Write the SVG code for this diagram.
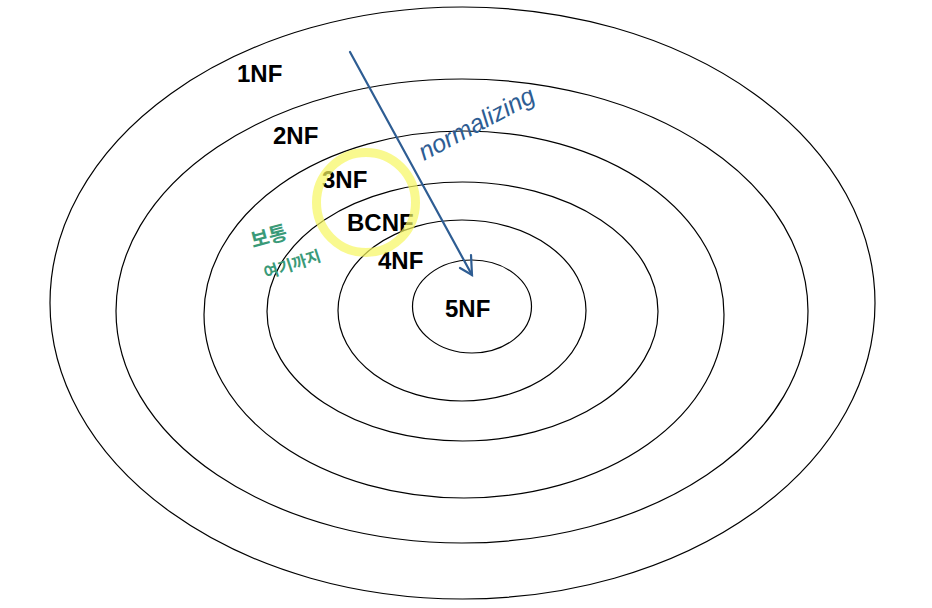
<svg xmlns="http://www.w3.org/2000/svg" width="932" height="608" viewBox="0 0 932 608">
<style>
.ring{fill:none;stroke:#000;stroke-width:1.2}
.lbl{font-family:"Liberation Sans",Arial,sans-serif;font-weight:bold;font-size:24px;fill:#000}
.blue{stroke:#2e5d93;stroke-width:2.2;fill:none;stroke-linecap:round}
.hw{font-family:"Liberation Sans",Arial,sans-serif;font-style:italic;fill:#2e5d93}
.kr{font-family:"Liberation Sans","Noto Sans CJK KR",sans-serif;font-weight:bold;fill:#3a9a78}
</style>
<rect width="932" height="608" fill="#fff"/>
<g id="n1NF"><ellipse class="ring" cx="462.5" cy="303" rx="412.5" ry="296"/><text class="lbl" x="237" y="82">1NF</text></g>
<g id="n2NF"><ellipse class="ring" cx="462" cy="311" rx="346" ry="232"/><text class="lbl" x="273" y="144">2NF</text></g>
<g id="n3NF"><ellipse class="ring" cx="464" cy="314.5" rx="260" ry="183.5"/><text class="lbl" x="322" y="188">3NF</text></g>
<g id="nBCNF"><ellipse class="ring" cx="462.5" cy="311.5" rx="195.5" ry="129.5"/><text class="lbl" x="347" y="231">BCNF</text></g>
<g id="n4NF"><ellipse class="ring" cx="462" cy="310.5" rx="124" ry="90.5"/><text class="lbl" x="378" y="269">4NF</text></g>
<g id="n5NF"><ellipse class="ring" cx="472" cy="306.5" rx="59.5" ry="46.5"/><text class="lbl" x="445" y="317">5NF</text></g>
<g id="highlight"><ellipse cx="366" cy="202.5" rx="49.5" ry="50" fill="none" stroke="#f7f760" stroke-opacity="0.7" stroke-width="9"/></g>
<g id="connectors">
<line class="blue" x1="350" y1="52" x2="472" y2="275"/>
<polyline class="blue" points="460,268 472,275 471,255"/>
</g>
<g id="notes">
<text class="hw" font-size="25" transform="translate(424,161) rotate(-28)">normalizing</text>
<text class="kr" font-size="20" transform="translate(253,248) rotate(-15)">보통</text>
<text class="kr" font-size="16" transform="translate(266,279) rotate(-18)">여기까지</text>
</g>
</svg>
